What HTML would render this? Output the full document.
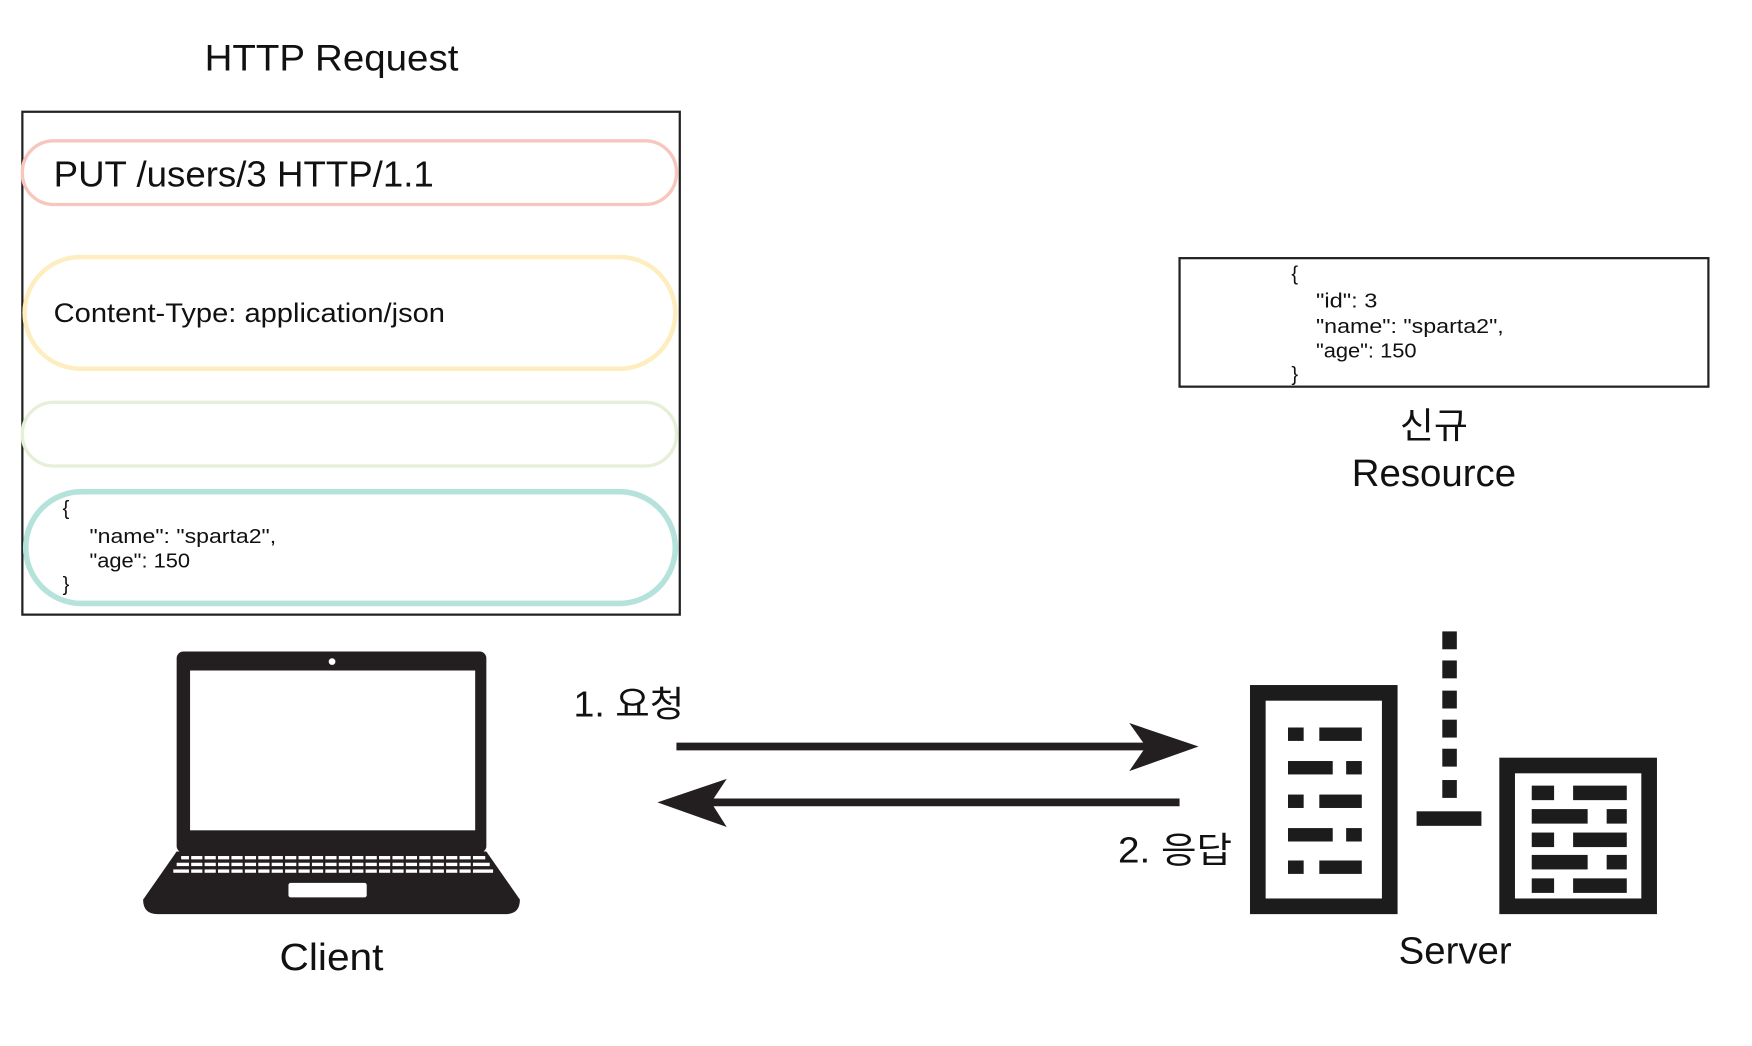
<!DOCTYPE html>
<html><head><meta charset="utf-8"><style>
html,body{margin:0;padding:0;background:#fff;}
svg{display:block}
text{font-family:"Liberation Sans","Noto Sans CJK KR",sans-serif;fill:#111;}
</style></head><body>
<svg width="1752" height="1046" viewBox="0 0 1567 936" preserveAspectRatio="none" xmlns="http://www.w3.org/2000/svg">
<text x="183" y="63" font-size="33" textLength="227" lengthAdjust="spacingAndGlyphs">HTTP Request</text>
<rect x="20" y="100" width="588" height="450" fill="none" stroke="#222" stroke-width="2"/>
<rect x="20" y="126" width="585" height="57" rx="28" fill="none" stroke="#f8c6bd" stroke-width="3"/>
<text x="48" y="167" font-size="32" textLength="340" lengthAdjust="spacingAndGlyphs">PUT /users/3 HTTP/1.1</text>
<rect x="22" y="230" width="582" height="100" rx="50" fill="none" stroke="#fdedbf" stroke-width="4"/>
<text x="48" y="288" font-size="24" textLength="350" lengthAdjust="spacingAndGlyphs">Content-Type: application/json</text>
<rect x="20" y="360" width="585" height="57" rx="28" fill="none" stroke="#e6efd8" stroke-width="3"/>
<rect x="23" y="440" width="581" height="100" rx="50" fill="none" stroke="#b5e3dc" stroke-width="5"/>
<g font-size="18"><text x="56" y="461">{</text><text x="80" y="486" textLength="167" lengthAdjust="spacingAndGlyphs">"name": "sparta2",</text><text x="80" y="508" textLength="90" lengthAdjust="spacingAndGlyphs">"age": 150</text><text x="56" y="529">}</text></g>
<rect x="1055" y="231" width="473" height="115" fill="none" stroke="#222" stroke-width="2"/>
<g font-size="18"><text x="1155" y="251">{</text><text x="1177" y="275" textLength="55" lengthAdjust="spacingAndGlyphs">"id": 3</text><text x="1177" y="298" textLength="168" lengthAdjust="spacingAndGlyphs">"name": "sparta2",</text><text x="1177" y="320" textLength="90" lengthAdjust="spacingAndGlyphs">"age": 150</text><text x="1155" y="341">}</text></g>
<text x="1252" y="392" font-size="32" textLength="61" lengthAdjust="spacingAndGlyphs">신규</text>
<text x="1209" y="435" font-size="34" textLength="147" lengthAdjust="spacingAndGlyphs">Resource</text>
<!-- laptop -->
<rect x="158" y="583" width="277" height="180" rx="6" fill="#231f20"/>
<rect x="170" y="600" width="255" height="143" fill="#fff"/>
<circle cx="297" cy="592" r="3" fill="#fff"/>
<path d="M158 762 L435 762 L465 805 Q465 818 452 818 L141 818 Q128 818 128 805 Z" fill="#231f20"/>
<g fill="#fff">
<rect x="162" y="766" width="272" height="3"/><rect x="158" y="772" width="280" height="3"/><rect x="155" y="778" width="286" height="3"/>
<rect x="258" y="790" width="70" height="13" rx="2"/>
</g>
<g stroke="#231f20" stroke-width="2">
<path d="M170 764V784M182 764V784M194 764V784M206 764V784M218 764V784M230 764V784M242 764V784M254 764V784M266 764V784M278 764V784M290 764V784M302 764V784M314 764V784M326 764V784M338 764V784M350 764V784M362 764V784M374 764V784M386 764V784M398 764V784M410 764V784M422 764V784"/>
</g>
<text x="250" y="868" font-size="34" textLength="93" lengthAdjust="spacingAndGlyphs">Client</text>
<!-- arrows -->
<text x="513" y="641" font-size="32" textLength="99" lengthAdjust="spacingAndGlyphs">1. 요청</text>
<line x1="605" y1="668" x2="1025" y2="668" stroke="#231f20" stroke-width="7"/>
<polygon points="1010,647 1072,668 1010,690 1025,668" fill="#231f20"/>
<line x1="636" y1="718" x2="1055" y2="718" stroke="#231f20" stroke-width="7"/>
<polygon points="650,697 588,718 650,740 636,718" fill="#231f20"/>
<text x="1000" y="772" font-size="32" textLength="102" lengthAdjust="spacingAndGlyphs">2. 응답</text>
<!-- server -->
<rect x="1118" y="613" width="132" height="205" fill="#1c1c1c"/>
<rect x="1132" y="627" width="104" height="177" fill="#fff"/>
<g fill="#1c1c1c">
<rect x="1152" y="651" width="14" height="12"/><rect x="1180" y="651" width="38" height="12"/>
<rect x="1152" y="681" width="40" height="12"/><rect x="1204" y="681" width="14" height="12"/>
<rect x="1152" y="711" width="14" height="12"/><rect x="1180" y="711" width="38" height="12"/>
<rect x="1152" y="741" width="40" height="12"/><rect x="1204" y="741" width="14" height="12"/>
<rect x="1152" y="770" width="14" height="12"/><rect x="1180" y="770" width="38" height="12"/>
<rect x="1290" y="565" width="13" height="16"/><rect x="1290" y="591" width="13" height="16"/><rect x="1290" y="618" width="13" height="16"/><rect x="1290" y="644" width="13" height="16"/><rect x="1290" y="670" width="13" height="16"/><rect x="1290" y="698" width="13" height="16"/>
<rect x="1267" y="726" width="58" height="13"/>
</g>
<rect x="1341" y="678" width="141" height="140" fill="#1c1c1c"/>
<rect x="1355" y="692" width="113" height="112" fill="#fff"/>
<g fill="#1c1c1c">
<rect x="1370" y="703" width="20" height="13"/><rect x="1407" y="703" width="48" height="13"/>
<rect x="1370" y="724" width="50" height="13"/><rect x="1437" y="724" width="18" height="13"/>
<rect x="1370" y="745" width="20" height="13"/><rect x="1407" y="745" width="48" height="13"/>
<rect x="1370" y="765" width="50" height="13"/><rect x="1437" y="765" width="18" height="13"/>
<rect x="1370" y="786" width="20" height="13"/><rect x="1407" y="786" width="48" height="13"/>
</g>
<text x="1251" y="862" font-size="34" textLength="101" lengthAdjust="spacingAndGlyphs">Server</text>
</svg>
</body></html>
